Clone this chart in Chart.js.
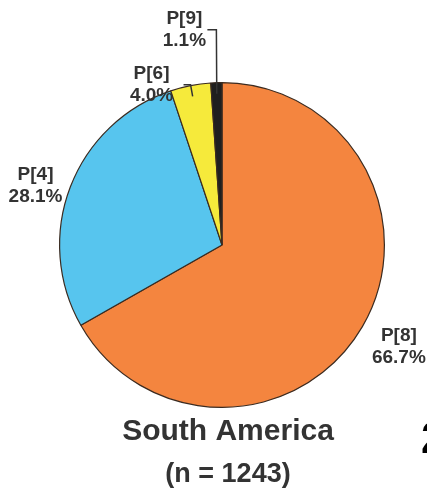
<!DOCTYPE html>
<html>
<head>
<meta charset="utf-8">
<script src="https://cdn.jsdelivr.net/npm/chart.js"></script>
<style>
  html, body { margin: 0; padding: 0; background: #fff; }
  canvas { display: block; }
</style>
</head>
<body>
<canvas id="pieChart" width="427" height="501"></canvas>
<script>
// VP4 genotype shares, clockwise from 12 o'clock
const genotypes = ['P[8]', 'P[4]', 'P[6]', 'P[9]'];
const percents = [66.7, 28.1, 4.0, 1.1];
const sliceColors = ['#f4853f', '#57c5ee', '#f6ea3b', '#1f1f1f'];
const regionName = 'South America';
const sampleSize = 1243;
const panelMark = '2';

// how each label sits next to its slice
const labelStyle = [
    { kind: 'radial', dist: 200, dx: 4, dy: 1.5 },
    { kind: 'radial', dist: 196, dx: -3.5, dy: 10.5 },
    { kind: 'callout', rise: 1, run: 7, dip: 11, dx: -32 },
    { kind: 'callout', rise: 53, run: 9, dip: 11, dx: -23 }
];

const textColor = '#333333';
const labelFont = 'bold 19px "Liberation Sans", Arial, sans-serif';

const sliceLabels = {
    id: 'sliceLabels',
    afterDatasetsDraw(chart) {
        const ctx = chart.ctx;
        const arcs = chart.getDatasetMeta(0).data;
        ctx.save();
        ctx.font = labelFont;
        ctx.fillStyle = textColor;
        ctx.strokeStyle = textColor;
        ctx.textAlign = 'center';
        ctx.textBaseline = 'middle';
        arcs.forEach((arc, i) => {
            const p = arc.getProps(['x', 'y', 'startAngle', 'endAngle', 'outerRadius']);
            const mid = (p.startAngle + p.endAngle) / 2;
            const cos = Math.cos(mid), sin = Math.sin(mid);
            const st = labelStyle[i];
            const lines = [genotypes[i], percents[i].toFixed(1) + '%'];
            let cx, cy;
            if (st.kind === 'radial') {
                cx = p.x + cos * st.dist + st.dx;
                cy = p.y + sin * st.dist + st.dy;
            } else {
                // bracket leader: into the slice, up, then across to the text
                const ex = p.x + cos * p.outerRadius;
                const ey = p.y + sin * p.outerRadius;
                const ix = p.x + cos * (p.outerRadius - st.dip);
                const iy = p.y + sin * (p.outerRadius - st.dip);
                const ly = ey - st.rise;
                ctx.lineWidth = 1.5;
                ctx.beginPath();
                ctx.moveTo(ix, iy);
                ctx.lineTo(ex, ly);
                ctx.lineTo(ex - st.run, ly);
                ctx.stroke();
                cx = ex - st.run + st.dx;
                cy = ly;
            }
            ctx.fillText(lines[0], cx, cy - 11);
            ctx.fillText(lines[1], cx, cy + 11);
        });
        ctx.restore();
    },
    afterDraw(chart) {
        const ctx = chart.ctx;
        ctx.save();
        ctx.fillStyle = textColor;
        ctx.textAlign = 'center';
        ctx.textBaseline = 'alphabetic';
        ctx.font = 'bold 30px "Liberation Sans", Arial, sans-serif';
        ctx.fillText(regionName, 228, 440);
        ctx.font = 'bold 27px "Liberation Sans", Arial, sans-serif';
        ctx.fillText('(n = ' + sampleSize + ')', 228, 482);
        // edge of the neighbouring panel's letter
        ctx.fillStyle = '#000';
        ctx.textAlign = 'left';
        ctx.font = 'bold 44px "Liberation Sans", Arial, sans-serif';
        ctx.fillText(panelMark, 421, 453);
        ctx.restore();
    }
};

new Chart(document.getElementById('pieChart').getContext('2d'), {
    type: 'pie',
    data: {
        labels: genotypes,
        datasets: [{
            data: percents,
            backgroundColor: sliceColors,
            borderColor: '#3b2b20',
            borderWidth: 1.2
        }]
    },
    options: {
        responsive: false,
        animation: false,
        layout: { padding: { left: 59, right: 42, top: 82, bottom: 93 } },
        plugins: {
            legend: { display: false },
            tooltip: { enabled: false }
        }
    },
    plugins: [sliceLabels]
});
</script>
</body>
</html>
